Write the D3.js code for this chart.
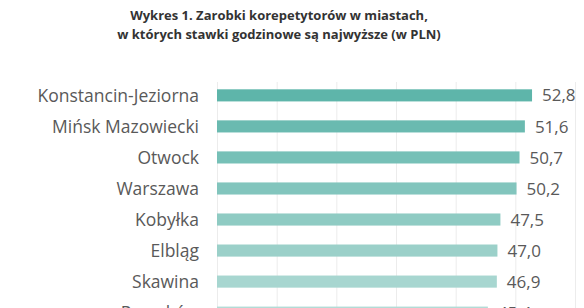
<!DOCTYPE html>
<html>
<head>
<meta charset="utf-8">
<script src="https://cdn.jsdelivr.net/npm/d3@7"></script>
<style>
  body { margin: 0; background: #fff; }
  svg { display: block; }
</style>
</head>
<body>
<div id="chart"></div>
<script>
const titleLines = [
  "Wykres 1. Zarobki korepetytorów w miastach,",
  "w których stawki godzinowe są najwyższe (w PLN)"
];
const cities = ["Konstancin-Jeziorna", "Mińsk Mazowiecki", "Otwock", "Warszawa", "Kobyłka", "Elbląg", "Skawina", "Pruszków"];
const rates = [52.8, 51.6, 50.7, 50.2, 47.5, 47.0, 46.9, 45.4];
const gridTicks = [0, 10, 20, 30, 40, 50, 60];

const width = 584, height = 308;
const margin = { top: 80, left: 217, right: 9 };

const svg = d3.select("#chart").append("svg")
  .attr("width", width)
  .attr("height", height);

const x = d3.scaleLinear().domain([0, 60]).range([margin.left, width - margin.right]);
const y = d3.scaleBand()
  .domain(cities)
  .range([margin.top, margin.top + 248])
  .paddingInner(0.61)
  .paddingOuter(0.3);

// darker teal for the top rank, fading down the list
const color = d3.scaleLinear()
  .domain([0, cities.length - 1])
  .range(["#5eb5aa", "#b3dbd6"]);

svg.append("g")
  .selectAll("text")
  .data(titleLines)
  .join("text")
  .attr("x", 279)
  .attr("y", (d, i) => 20 + i * 18.5)
  .attr("text-anchor", "middle")
  .attr("font-family", "'Open Sans', sans-serif")
  .attr("font-weight", 700)
  .attr("font-size", 13)
  .attr("fill", "#333")
  .text(d => d);

svg.append("g")
  .selectAll("line")
  .data(gridTicks)
  .join("line")
  .attr("x1", d => x(d) + 0.5)
  .attr("x2", d => x(d) + 0.5)
  .attr("y1", 82)
  .attr("y2", height)
  .attr("stroke", "#ececec")
  .attr("stroke-width", 1);

svg.append("g")
  .selectAll("rect")
  .data(rates)
  .join("rect")
  .attr("x", x(0))
  .attr("y", (d, i) => y(cities[i]))
  .attr("width", d => x(d) - x(0))
  .attr("height", y.bandwidth())
  .attr("fill", (d, i) => color(i));

svg.append("g")
  .selectAll("text")
  .data(cities)
  .join("text")
  .attr("x", 199)
  .attr("y", d => y(d) + y.bandwidth() / 2)
  .attr("dy", "0.36em")
  .attr("text-anchor", "end")
  .attr("font-family", "'Open Sans', sans-serif")
  .attr("font-size", 17.5)
  .attr("fill", "#595959")
  .text(d => d);

svg.append("g")
  .selectAll("text")
  .data(rates)
  .join("text")
  .attr("x", d => x(d) + 10)
  .attr("y", (d, i) => y(cities[i]) + y.bandwidth() / 2)
  .attr("dy", "0.36em")
  .attr("font-family", "'Open Sans', sans-serif")
  .attr("font-size", 17)
  .attr("fill", "#595959")
  .text(d => d3.format(".1f")(d).replace(".", ","));
</script>
</body>
</html>
